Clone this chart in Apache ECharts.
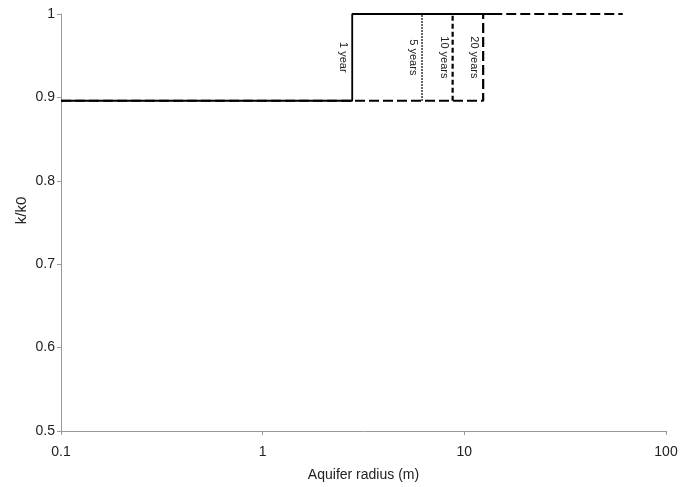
<!DOCTYPE html>
<html>
<head>
<meta charset="utf-8">
<script src="https://cdn.jsdelivr.net/npm/echarts@6/dist/echarts.min.js"></script>
<style>
html,body{margin:0;padding:0;background:#fff;}
#chart{width:694px;height:487px;}
</style>
</head>
<body>
<div id="chart"></div>
<script>
// Data
const seriesNames = ['1 year', '5 years', '10 years', '20 years'];
const frontRadius = [2.78, 6.17, 8.75, 12.4];   // radius of the front (m)
const year1X = [0.1, 2.78, 2.78, 13.9];
const year1Y = [0.896, 0.896, 1.0, 1.0];
const year5X = [6.17, 6.17, 13.9];
const year5Y = [0.896, 1.0, 1.0];
const year10X = [8.75, 8.75, 13.9];
const year10Y = [0.896, 1.0, 1.0];
const year20X = [0.1, 12.4, 12.4, 61];
const year20Y = [0.896, 0.896, 1.0, 1.0];
const labelY = 0.948;
const xTickLabels = ['0.1', '1', '10', '100'];
const yTickLabels = ['0.5', '0.6', '0.7', '0.8', '0.9', '1'];

const zip = (xs, ys) => xs.map((x, i) => [x, ys[i]]);
const FONT = 'Liberation Sans';

function mkSeries(idx, xs, ys, lineStyle, z) {
  return {
    name: seriesNames[idx],
    type: 'line',
    data: zip(xs, ys),
    symbol: 'none',
    lineStyle: Object.assign({ color: '#000' }, lineStyle),
    z: z,
    animation: false,
    markPoint: {
      symbol: 'circle',
      symbolSize: 0,
      silent: true,
      animation: false,
      label: {
        show: true,
        position: 'inside',
        formatter: seriesNames[idx],
        rotate: -90,
        offset: [0, 9],
        fontFamily: FONT,
        fontSize: 11,
        color: '#222'
      },
      data: [{ coord: [frontRadius[idx], labelY] }]
    }
  };
}

const chart = echarts.init(document.getElementById('chart'), null, { renderer: 'canvas' });
chart.setOption({
  backgroundColor: '#fff',
  animation: false,
  grid: { left: 61, right: 28, top: 14, bottom: 56 },
  xAxis: {
    type: 'log',
    logBase: 10,
    min: 0.1,
    max: 100,
    name: 'Aquifer radius (m)',
    nameLocation: 'middle',
    nameGap: 37,
    nameMoveOverlap: false,
    nameTextStyle: { fontFamily: FONT, fontSize: 14, color: '#222' },
    axisLine: { lineStyle: { color: '#999', width: 1 } },
    axisTick: { show: true, inside: false, length: 4, lineStyle: { color: '#999' } },
    axisLabel: {
      fontFamily: FONT, fontSize: 14, color: '#222', margin: 14,
      formatter: function (v) {
        const i = Math.round(Math.log10(v)) + 1;
        return xTickLabels[i] !== undefined ? xTickLabels[i] : '';
      }
    },
    minorTick: { show: false },
    splitLine: { show: false }
  },
  yAxis: {
    type: 'value',
    min: 0.5,
    max: 1,
    interval: 0.1,
    name: 'k/k0',
    nameLocation: 'middle',
    nameGap: 32,
    nameMoveOverlap: false,
    nameTextStyle: { fontFamily: FONT, fontSize: 15, color: '#222', padding: [0, 0, 0, 24] },
    axisLine: { show: true, lineStyle: { color: '#999', width: 1 } },
    axisTick: { show: true, inside: false, length: 4, lineStyle: { color: '#999' } },
    axisLabel: {
      fontFamily: FONT, fontSize: 14, color: '#222', margin: 6,
      formatter: function (v) {
        const i = Math.round((v - 0.5) * 10);
        return yTickLabels[i] !== undefined ? yTickLabels[i] : '';
      }
    },
    splitLine: { show: false }
  },
  series: [
    mkSeries(3, year20X, year20Y, { width: 2.2, type: [10, 4] }, 2),
    mkSeries(2, year10X, year10Y, { width: 2.2, type: [5, 3] }, 3),
    mkSeries(1, year5X, year5Y, { width: 1.6, type: [1.5, 1.5] }, 4),
    mkSeries(0, year1X, year1Y, { width: 1.8, type: 'solid' }, 5)
  ]
});
</script>
</body>
</html>
